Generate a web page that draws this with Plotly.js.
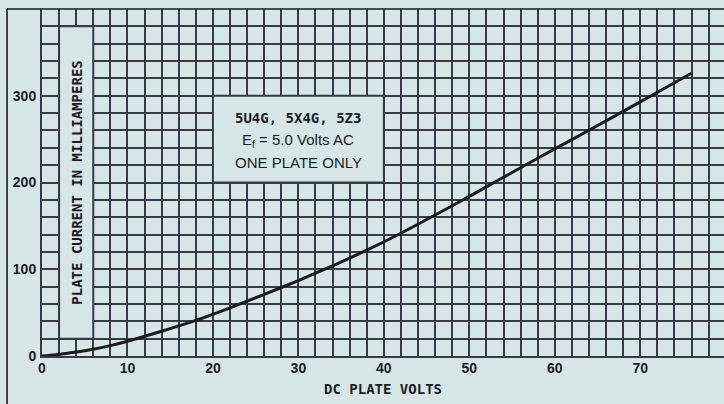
<!DOCTYPE html>
<html>
<head>
<meta charset="utf-8">
<script src="https://cdn.plot.ly/plotly-3.0.1.min.js"></script>
<style>
  html, body { margin: 0; padding: 0; background: #d6e6e7; }
  #chart { width: 724px; height: 404px; }
</style>
</head>
<body>
<div id="chart"></div>
<script>
// ---- data ----
const plateVolts = [0, 2, 4, 6, 8, 10, 14, 18, 22, 26, 30, 34, 38, 42, 46, 50, 54, 58, 62, 66, 70, 74, 76];
const plateCurrentMA = [0, 1.8, 4.6, 7.8, 12, 17, 28.5, 41, 55.5, 71, 87, 104, 122, 141.5, 162.5, 184, 206, 228, 249.5, 271, 293, 315, 326];
const xTickVals = [0, 10, 20, 30, 40, 50, 60, 70];
const yTickVals = [0, 100, 200, 300];
const tubeTypes = "5U4G, 5X4G, 5Z3";
const filamentLine = "E<sub>f</sub> = 5.0 Volts AC";
const plateLine = "ONE PLATE ONLY";
const xTitle = "DC PLATE VOLTS";
const yTitle = "PLATE CURRENT IN MILLIAMPERES";

const BG = "#d6e6e7";
const GRID = "#383b47";
const INK = "#1b1b1f";
const MONO = "DejaVu Sans Mono, Liberation Mono, monospace";
const SANS = "Liberation Sans, Arial, sans-serif";
const GW = 2;

const trace = {
  x: plateVolts,
  y: plateCurrentMA,
  type: "scatter",
  mode: "lines",
  line: { color: INK, width: 3, shape: "spline", smoothing: 0.6 },
  hoverinfo: "skip"
};

const layout = {
  width: 724,
  height: 404,
  margin: { l: 42, r: 0, t: 9, b: 48 },
  paper_bgcolor: BG,
  plot_bgcolor: BG,
  showlegend: false,
  xaxis: {
    range: [0, 79.8],
    tickmode: "array",
    tickvals: xTickVals,
    ticktext: xTickVals.map(String),
    showgrid: true,
    gridcolor: GRID,
    gridwidth: GW,
    minor: { tickmode: "linear", tick0: 0, dtick: 2, showgrid: true, gridcolor: GRID, gridwidth: GW, ticklen: 0 },
    zeroline: false,
    showline: true,
    linecolor: GRID,
    linewidth: GW,
    ticks: "",
    ticklabelstandoff: -2,
    tickfont: { family: SANS, size: 14, color: INK, weight: "bold" },
    title: { text: xTitle, font: { family: MONO, size: 14, color: INK, weight: "bold" }, standoff: 9 },
    fixedrange: true
  },
  yaxis: {
    range: [0, 400],
    tickmode: "array",
    tickvals: yTickVals,
    ticktext: yTickVals.map(String),
    showgrid: true,
    gridcolor: GRID,
    gridwidth: GW,
    minor: { tickmode: "linear", tick0: 0, dtick: 20, showgrid: true, gridcolor: GRID, gridwidth: GW, ticklen: 0 },
    zeroline: false,
    showline: true,
    linecolor: GRID,
    linewidth: GW,
    ticks: "",
    ticklabelstandoff: 1,
    tickfont: { family: SANS, size: 14, color: INK, weight: "bold" },
    fixedrange: true
  },
  shapes: [
    // label strip for the y title (grid removed inside)
    { type: "rect", xref: "x", yref: "y", x0: 2, x1: 6, y0: 20, y1: 380, layer: "between",
      fillcolor: BG, line: { color: GRID, width: GW } },
    // caption box
    { type: "rect", xref: "x", yref: "y", x0: 20, x1: 40, y0: 200, y1: 300, layer: "between",
      fillcolor: BG, line: { color: GRID, width: GW } },
    // outer frame: left rule and top rule
    { type: "line", xref: "paper", yref: "paper", x0: -0.0513, x1: -0.0513, y0: 1, y1: -0.2,
      line: { color: INK, width: 1.6 } },
    { type: "line", xref: "paper", yref: "paper", x0: -0.0513, x1: 1.01, y0: 1, y1: 1,
      line: { color: INK, width: 1.6 } }
  ],
  annotations: [
    { x: 4, y: 200, xref: "x", yref: "y", text: yTitle, textangle: -90, showarrow: false,
      font: { family: MONO, size: 14, color: INK, weight: "bold" } },
    { x: 30, y: 274, xref: "x", yref: "y", text: tubeTypes, showarrow: false,
      font: { family: MONO, size: 14, color: INK, weight: "bold" } },
    { x: 30, y: 248, xref: "x", yref: "y", text: filamentLine, showarrow: false,
      font: { family: SANS, size: 15, color: INK } },
    { x: 30, y: 222.5, xref: "x", yref: "y", text: plateLine, showarrow: false,
      font: { family: SANS, size: 15, color: INK } }
  ]
};

Plotly.newPlot("chart", [trace], layout, { staticPlot: true, displayModeBar: false });
</script>
</body>
</html>
